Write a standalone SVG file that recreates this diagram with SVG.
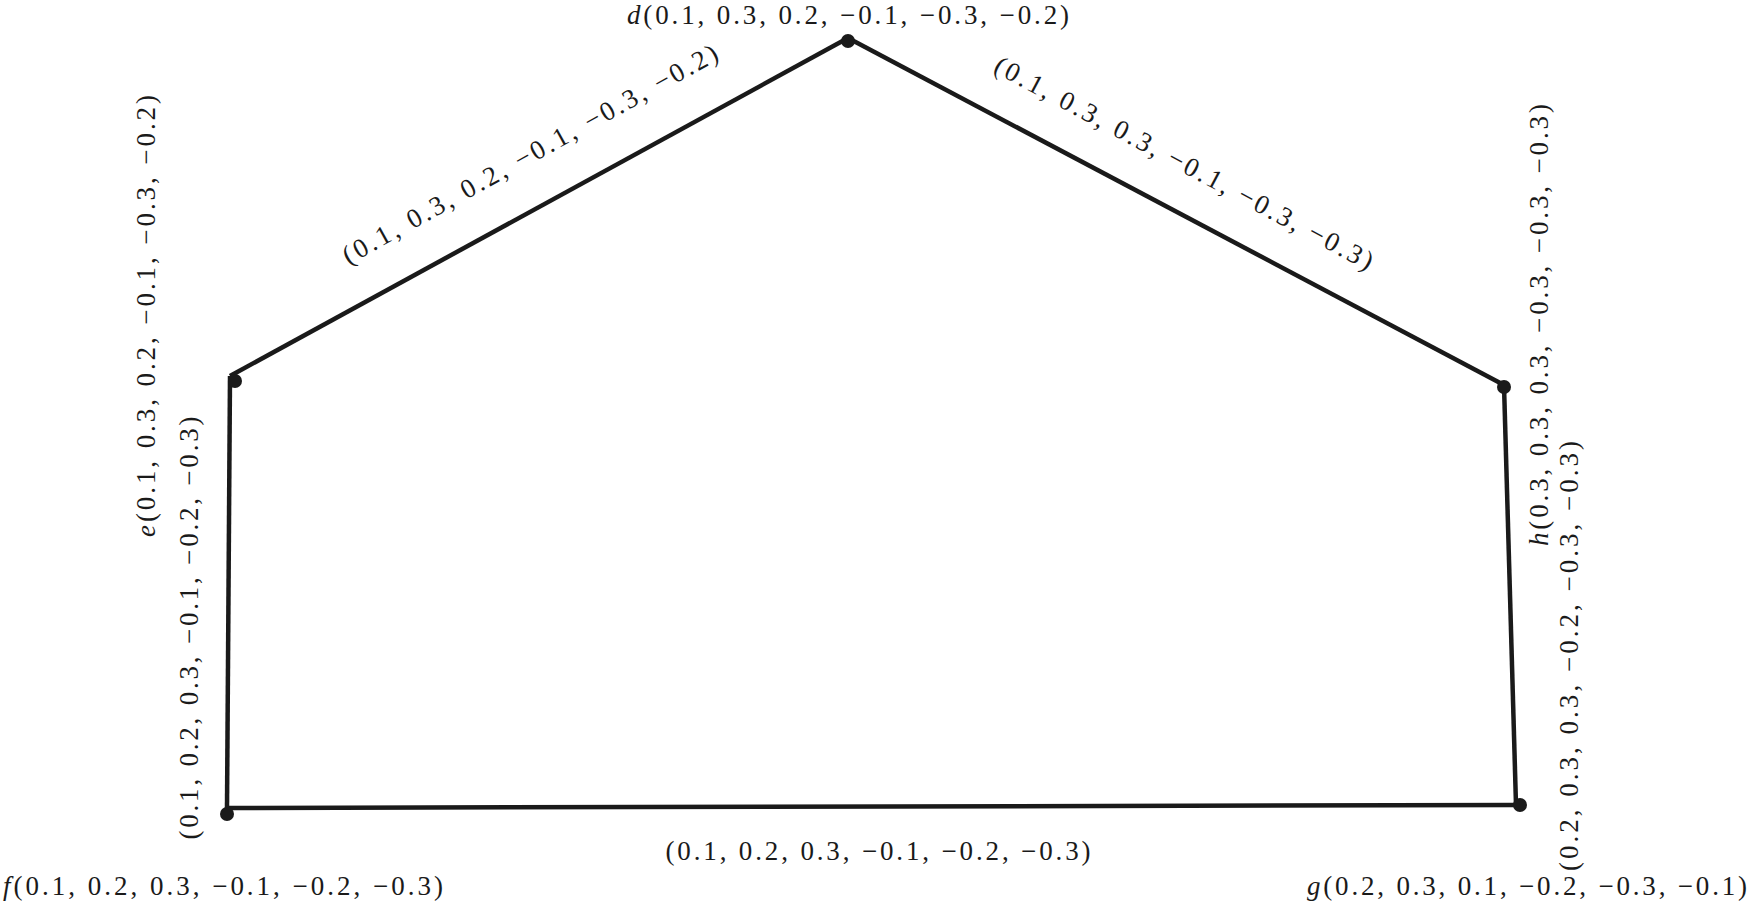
<svg xmlns="http://www.w3.org/2000/svg" width="1750" height="902" viewBox="0 0 1750 902">
<style>
.lbl{font-family:"Liberation Serif","DejaVu Serif",serif;font-size:27px;fill:#1a1a1a}
.it{font-style:italic}
.edge{fill:none;stroke:#1a1a1a;stroke-width:4.5;stroke-linejoin:miter}
.dot{fill:#1a1a1a}
</style>
<rect width="1750" height="902" fill="#fff"/>
<g id="connectors">
<polyline class="edge" points="230,376 848,38"/>
<polyline class="edge" points="848,38 1504,385"/>
<polyline class="edge" points="1504,385 1516,805"/>
<polyline class="edge" points="1516,805 227,808"/>
<polyline class="edge" points="227,808 230,376"/>
<text class="lbl" transform="translate(530,154) rotate(-29)" x="0" y="9" text-anchor="middle" textLength="425" lengthAdjust="spacing">(0.1, 0.3, 0.2, −0.1, −0.3, −0.2)</text>
<text class="lbl" transform="translate(1184,163) rotate(28)" x="0" y="9" text-anchor="middle" textLength="425" lengthAdjust="spacing">(0.1, 0.3, 0.3, −0.1, −0.3, −0.3)</text>
<text class="lbl" transform="translate(1569,656) rotate(-90)" x="0" y="9" text-anchor="middle" textLength="430" lengthAdjust="spacing">(0.2, 0.3, 0.3, −0.2, −0.3, −0.3)</text>
<text class="lbl" x="878" y="860" text-anchor="middle" textLength="425" lengthAdjust="spacing">(0.1, 0.2, 0.3, −0.1, −0.2, −0.3)</text>
<text class="lbl" transform="translate(189,628) rotate(-90)" x="0" y="9" text-anchor="middle" textLength="423" lengthAdjust="spacing">(0.1, 0.2, 0.3, −0.1, −0.2, −0.3)</text>
</g>
<g id="node-d">
<circle class="dot" cx="848" cy="41" r="7"/>
<text class="lbl" x="848" y="24" text-anchor="middle" textLength="442" lengthAdjust="spacing"><tspan class="it">d</tspan>(0.1, 0.3, 0.2, −0.1, −0.3, −0.2)</text>
</g>
<g id="node-e">
<circle class="dot" cx="235" cy="381" r="7"/>
<text class="lbl" transform="translate(146,316) rotate(-90)" x="0" y="9" text-anchor="middle" textLength="442" lengthAdjust="spacing"><tspan class="it">e</tspan>(0.1, 0.3, 0.2, −0.1, −0.3, −0.2)</text>
</g>
<g id="node-h">
<circle class="dot" cx="1504" cy="387" r="7"/>
<text class="lbl" transform="translate(1539,325) rotate(-90)" x="0" y="9" text-anchor="middle" textLength="442" lengthAdjust="spacing"><tspan class="it">h</tspan>(0.3, 0.3, 0.3, −0.3, −0.3, −0.3)</text>
</g>
<g id="node-g">
<circle class="dot" cx="1520" cy="805" r="7"/>
<text class="lbl" x="1527" y="895" text-anchor="middle" textLength="440" lengthAdjust="spacing"><tspan class="it">g</tspan>(0.2, 0.3, 0.1, −0.2, −0.3, −0.1)</text>
</g>
<g id="node-f">
<circle class="dot" cx="227" cy="814" r="7"/>
<text class="lbl" x="223" y="895" text-anchor="middle" textLength="440" lengthAdjust="spacing"><tspan class="it">f</tspan>(0.1, 0.2, 0.3, −0.1, −0.2, −0.3)</text>
</g>
</svg>
